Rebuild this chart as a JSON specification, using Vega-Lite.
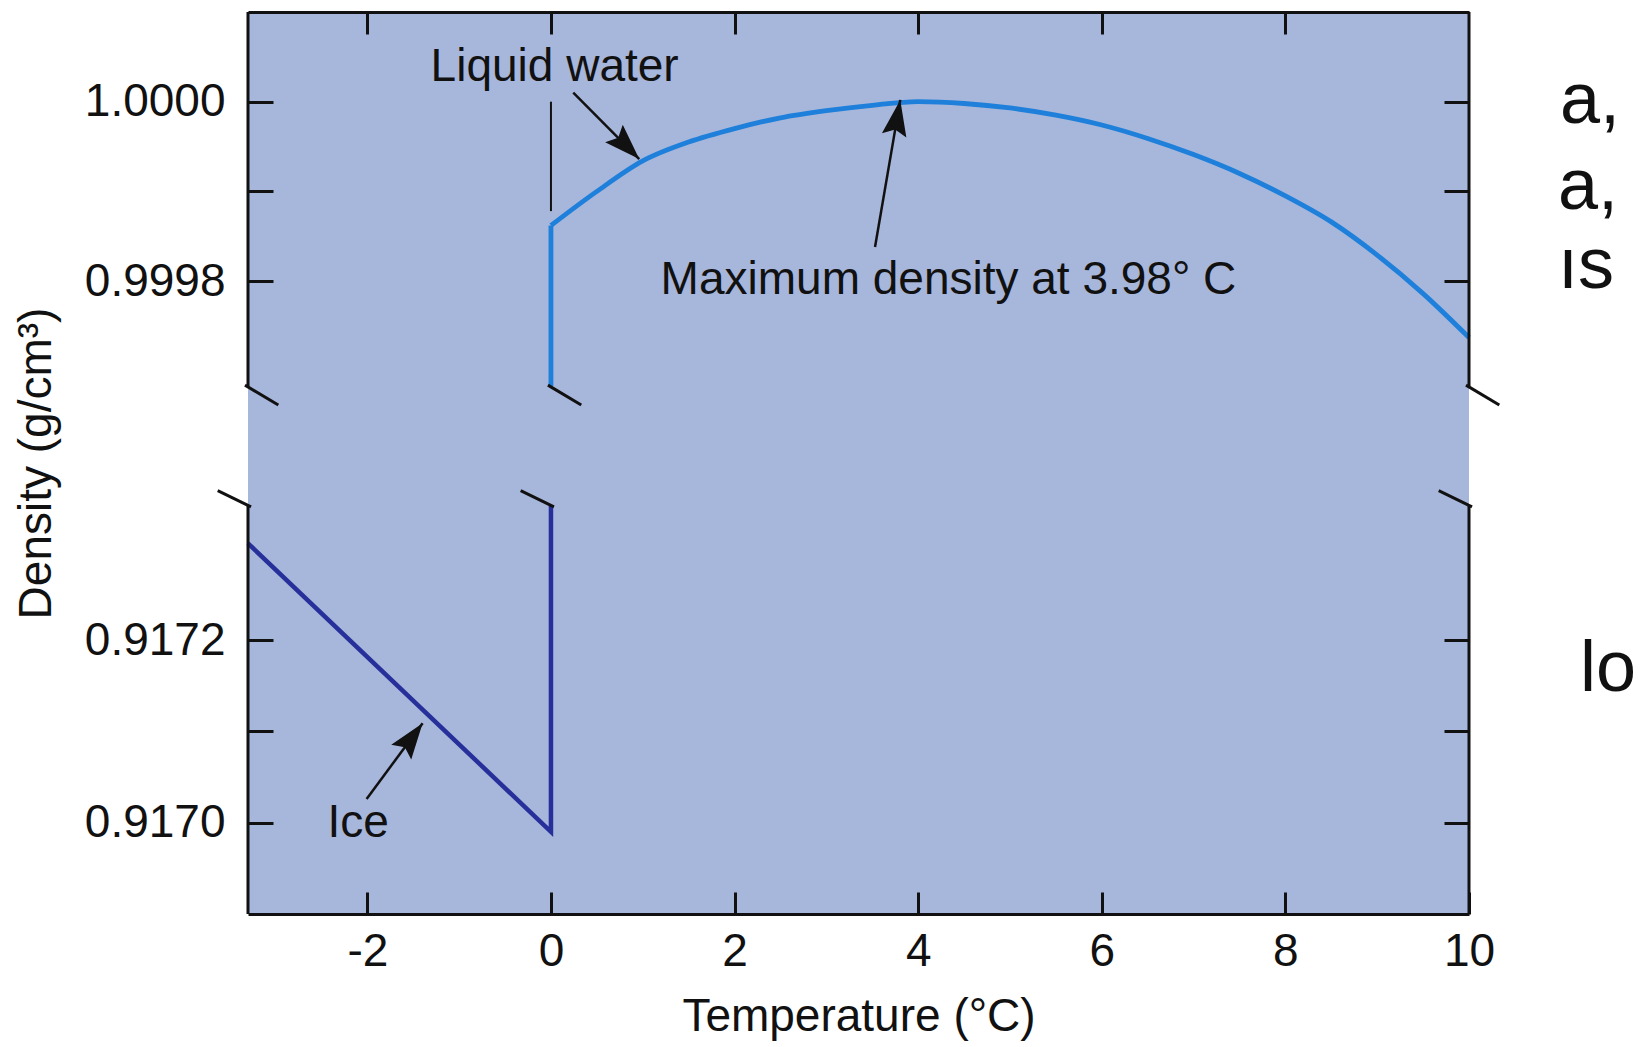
{
  "$schema": "https://vega.github.io/schema/vega-lite/v6.json",
  "width": 1221,
  "height": 902,
  "autosize": {"type": "none"},
  "padding": {"left": 248, "top": 12, "right": 172, "bottom": 133},
  "background": "#ffffff",
  "config": {
    "view": {"fill": "#A7B6DB", "stroke": null},
    "font": "Liberation Sans",
    "axis": {
      "labelFont": "Liberation Sans",
      "titleFont": "Liberation Sans",
      "labelColor": "#111111",
      "titleColor": "#111111",
      "tickColor": "#111111",
      "domainColor": "#111111",
      "grid": false,
      "labelFontSize": 46,
      "titleFontSize": 46,
      "titleFontWeight": "normal",
      "labelOverlap": false,
      "labelFlush": false
    }
  },
  "datasets": {
    "liquidv": [
      {"i": 0, "t": 0, "d": 0.999683},
      {"i": 1, "t": 0, "d": 0.999862}
    ],
    "liquid": [
      {"i": 1, "t": 0, "d": 0.999862},
      {"i": 3, "t": 0.5, "d": 0.9999},
      {"i": 4, "t": 1.0, "d": 0.999934},
      {"i": 5, "t": 1.5, "d": 0.999955},
      {"i": 6, "t": 2.0, "d": 0.99997},
      {"i": 7, "t": 2.5, "d": 0.999982},
      {"i": 8, "t": 3.0, "d": 0.99999},
      {"i": 9, "t": 3.5, "d": 0.999996},
      {"i": 10, "t": 4.0, "d": 1.0},
      {"i": 11, "t": 4.5, "d": 0.999998},
      {"i": 12, "t": 5.0, "d": 0.999993},
      {"i": 13, "t": 5.5, "d": 0.999985},
      {"i": 14, "t": 6.0, "d": 0.999974},
      {"i": 15, "t": 6.5, "d": 0.999959},
      {"i": 16, "t": 7.0, "d": 0.999941},
      {"i": 17, "t": 7.5, "d": 0.99992},
      {"i": 18, "t": 8.0, "d": 0.999895},
      {"i": 19, "t": 8.5, "d": 0.999866},
      {"i": 20, "t": 9.0, "d": 0.999829},
      {"i": 21, "t": 9.5, "d": 0.999786},
      {"i": 22, "t": 10.0, "d": 0.999737}
    ],
    "ice": [
      {"i": 0, "t": -3.3, "d": 0.917306},
      {"i": 1, "t": 0, "d": 0.91699},
      {"i": 2, "t": 0, "d": 0.917348}
    ],
    "frame": [
      {"t": -3.3, "d": 1.0001, "d2": 0.999683},
      {"t": -3.3, "d": 0.917348, "d2": 0.9169},
      {"t": 10, "d": 1.0001, "d2": 0.999683},
      {"t": 10, "d": 0.917348, "d2": 0.9169}
    ],
    "phase": [
      {"t": 0, "d": 1.0, "d2": 0.999878}
    ],
    "breaks": [
      {"k": "L1", "t": -3.333, "d": 0.999684},
      {"k": "L1", "t": -2.97, "d": 0.986537},
      {"k": "L2", "t": -3.63, "d": 0.927241},
      {"k": "L2", "t": -3.267, "d": 0.917346},
      {"k": "M1", "t": -0.033, "d": 0.999684},
      {"k": "M1", "t": 0.33, "d": 0.986537},
      {"k": "M2", "t": -0.33, "d": 0.927241},
      {"k": "M2", "t": 0.033, "d": 0.917346},
      {"k": "R1", "t": 9.967, "d": 0.999684},
      {"k": "R1", "t": 10.33, "d": 0.986537},
      {"k": "R2", "t": 9.67, "d": 0.927241},
      {"k": "R2", "t": 10.033, "d": 0.917346}
    ],
    "arrows": [
      {"a": "liq", "t": 0.243, "d": 1.00001, "t2": 0.962, "d2": 0.999936},
      {"a": "max", "t": 3.53, "d": 0.999838, "t2": 3.805, "d2": 1.000002},
      {"a": "ice", "t": -2.008, "d": 0.917026, "t2": -1.398, "d2": 0.917109}
    ],
    "labels": [
      {"txt": "Liquid water", "t": 0.04, "d": 1.000039},
      {"txt": "Maximum density at 3.98° C", "t": 4.33, "d": 0.999801},
      {"txt": "Ice", "t": -2.1, "d": 0.917}
    ],
    "fragments": [
      {"txt": "a,", "t": 10.99, "d": 0.999976},
      {"txt": "a,", "t": 10.97, "d": 0.99988},
      {"txt": "ıs", "t": 10.97, "d": 0.999792},
      {"txt": "lo", "t": 11.21, "d": 0.917144}
    ]
  },
  "resolve": {"axis": {"x": "independent", "y": "independent"}},
  "layer": [
    {
      "data": {"name": "liquid"},
      "mark": {"type": "line", "color": "#1E80DA", "strokeWidth": 4.8, "interpolate": "monotone"},
      "encoding": {
        "x": {
          "field": "t", "type": "quantitative",
          "scale": {"domain": [-3.3, 10], "nice": false, "zero": false},
          "axis": {
            "orient": "bottom",
            "values": [-2, 0, 2, 4, 6, 8, 10],
            "labelExpr": "toString(datum.value)",
            "tickSize": -22, "tickWidth": 3,
            "domain": true, "domainWidth": 3,
            "labelPadding": 37,
            "title": "Temperature (°C)",
            "titlePadding": 20
          }
        },
        "y": {
          "field": "d", "type": "quantitative",
          "scale": {"domain": [0.9169, 0.917348, 0.999683, 1.0001], "range": [902, 493, 374, 0], "nice": false, "zero": false},
          "axis": {
            "orient": "left",
            "values": [0.917, 0.9171, 0.9172, 0.9998, 0.9999, 1.0],
            "labelExpr": "abs(datum.value-0.9171)<0.000001 || abs(datum.value-0.9999)<0.000001 ? '' : format(datum.value, '.4f')",
            "tickSize": -25, "tickWidth": 3,
            "domain": false,
            "labelPadding": 48,
            "title": "Density (g/cm³)",
            "titlePadding": 24
          }
        },
        "order": {"field": "i", "type": "quantitative"}
      }
    },
    {
      "data": {"name": "ice"},
      "mark": {"type": "line", "color": "#27309A", "strokeWidth": 4.5},
      "encoding": {
        "x": {
          "field": "t", "type": "quantitative",
          "axis": {
            "orient": "top",
            "values": [-2, 0, 2, 4, 6, 8],
            "labels": false,
            "tickSize": -22, "tickWidth": 3,
            "domain": true, "domainWidth": 3,
            "title": null
          }
        },
        "y": {
          "field": "d", "type": "quantitative",
          "axis": {
            "orient": "right",
            "values": [0.917, 0.9171, 0.9172, 0.9998, 0.9999, 1.0],
            "labels": false,
            "tickSize": -25, "tickWidth": 3,
            "domain": false,
            "title": null
          }
        },
        "order": {"field": "i", "type": "quantitative"}
      }
    },
    {
      "data": {"name": "liquidv"},
      "mark": {"type": "line", "color": "#1E80DA", "strokeWidth": 4.8},
      "encoding": {
        "x": {"field": "t", "type": "quantitative", "axis": null},
        "y": {"field": "d", "type": "quantitative", "axis": null},
        "order": {"field": "i", "type": "quantitative"}
      }
    },
    {
      "data": {"name": "frame"},
      "mark": {"type": "rule", "color": "#111111", "strokeWidth": 3},
      "encoding": {
        "x": {"field": "t", "type": "quantitative", "axis": null},
        "y": {"field": "d", "type": "quantitative", "axis": null},
        "y2": {"field": "d2"}
      }
    },
    {
      "data": {"name": "phase"},
      "mark": {"type": "rule", "color": "#111111", "strokeWidth": 2},
      "encoding": {
        "x": {"field": "t", "type": "quantitative", "axis": null},
        "y": {"field": "d", "type": "quantitative", "axis": null},
        "y2": {"field": "d2"}
      }
    },
    {
      "data": {"name": "breaks"},
      "mark": {"type": "line", "color": "#111111", "strokeWidth": 3},
      "encoding": {
        "x": {"field": "t", "type": "quantitative", "axis": null},
        "y": {"field": "d", "type": "quantitative", "axis": null},
        "detail": {"field": "k"}
      }
    },
    {
      "data": {"name": "arrows"},
      "mark": {"type": "rule", "color": "#111111", "strokeWidth": 2.5},
      "encoding": {
        "x": {"field": "t", "type": "quantitative", "axis": null},
        "y": {"field": "d", "type": "quantitative", "axis": null},
        "x2": {"field": "t2"},
        "y2": {"field": "d2"}
      }
    },
    {
      "data": {"name": "arrows"},
      "transform": [{"filter": "datum.a == 'liq'"}],
      "mark": {"type": "point", "shape": "M0,0L-0.62,1.8L0,1.5L0.62,1.8Z", "filled": true, "color": "#111111", "opacity": 1, "size": 1600, "angle": 135.3, "strokeWidth": 0},
      "encoding": {
        "x": {"field": "t2", "type": "quantitative", "axis": null},
        "y": {"field": "d2", "type": "quantitative", "axis": null}
      }
    },
    {
      "data": {"name": "arrows"},
      "transform": [{"filter": "datum.a == 'max'"}],
      "mark": {"type": "point", "shape": "M0,0L-0.62,1.8L0,1.5L0.62,1.8Z", "filled": true, "color": "#111111", "opacity": 1, "size": 1600, "angle": 9.8, "strokeWidth": 0},
      "encoding": {
        "x": {"field": "t2", "type": "quantitative", "axis": null},
        "y": {"field": "d2", "type": "quantitative", "axis": null}
      }
    },
    {
      "data": {"name": "arrows"},
      "transform": [{"filter": "datum.a == 'ice'"}],
      "mark": {"type": "point", "shape": "M0,0L-0.62,1.8L0,1.5L0.62,1.8Z", "filled": true, "color": "#111111", "opacity": 1, "size": 1600, "angle": 36.4, "strokeWidth": 0},
      "encoding": {
        "x": {"field": "t2", "type": "quantitative", "axis": null},
        "y": {"field": "d2", "type": "quantitative", "axis": null}
      }
    },
    {
      "data": {"name": "labels"},
      "mark": {"type": "text", "fontSize": 46, "font": "Liberation Sans", "color": "#111111", "align": "center", "baseline": "middle"},
      "encoding": {
        "x": {"field": "t", "type": "quantitative", "axis": null},
        "y": {"field": "d", "type": "quantitative", "axis": null},
        "text": {"field": "txt"}
      }
    },
    {
      "data": {"name": "fragments"},
      "mark": {"type": "text", "fontSize": 72, "font": "Liberation Sans", "color": "#111111", "align": "left", "baseline": "alphabetic"},
      "encoding": {
        "x": {"field": "t", "type": "quantitative", "axis": null},
        "y": {"field": "d", "type": "quantitative", "axis": null},
        "text": {"field": "txt"}
      }
    }
  ]
}
